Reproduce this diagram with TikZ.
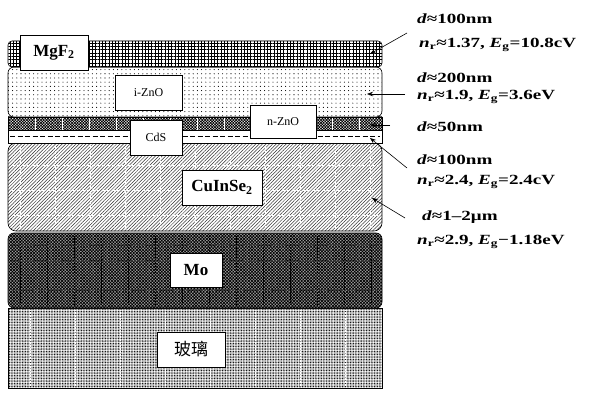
\documentclass[tikz,border=0pt]{standalone}
\usepackage{fontspec}
\usepackage{graphicx}
\setmainfont{Liberation Serif}
\newfontfamily\cjk{Noto Sans CJK SC}
\usetikzlibrary{patterns.meta,arrows.meta}
\newcommand{\widetext}[1]{\scalebox{1.36}[1]{#1}}
\tikzset{
  layer/.style={draw=black, line width=0.6pt},
  lbl/.style={draw=black, fill=white, line width=0.6pt, inner sep=0pt, font=\fontsize{17}{19}\selectfont\bfseries},
  smalllbl/.style={draw=black, fill=white, line width=0.6pt, inner sep=0pt, font=\fontsize{12}{14}\selectfont},
  cjklbl/.style={draw=black, fill=white, line width=0.6pt, inner sep=0pt, font=\fontsize{17}{19}\selectfont\cjk},
  note/.style={anchor=west, inner sep=0pt, font=\fontsize{14}{16}\selectfont\bfseries},
  pointer/.style={line width=0.6pt, -{Stealth[length=6pt,width=4.5pt]}}
}
\begin{document}
\begin{tikzpicture}[x=1pt,y=-1pt]
\useasboundingbox (0,0) rectangle (589,393);
% glass
\fill[white] (8,308) rectangle (382,388);
\fill[pattern={Dots[distance=1.6pt,radius=0.55pt]},pattern color=black] (8,308) rectangle (382,388);
\foreach \xx in {30,75,...,380} \draw[white,line width=0.5pt,densely dotted] (\xx,310) -- (\xx,386);
\draw[layer] (8,308) rectangle (382,388);
% Mo
\fill[gray!70,rounded corners=6pt] (8,233) rectangle (382,308);
\fill[pattern={Hatch[angle=45,distance=2.2pt,line width=0.7pt]},pattern color=black,rounded corners=6pt] (8,233) rectangle (382,308);
\foreach \xx in {20,47,...,380} \draw[black,line width=0.5pt,densely dotted] (\xx,236) -- (\xx,305);
\foreach \yy in {245,260,275,290} \draw[black!80,line width=0.4pt,densely dotted] (12,\yy) -- (378,\yy);
\draw[layer,rounded corners=6pt] (8,233) rectangle (382,308);
% CuInSe2
\fill[white,rounded corners=8pt] (8,143) rectangle (382,231);
\fill[pattern={Lines[angle=45,distance=2.4pt,line width=0.5pt]},pattern color=black!80,rounded corners=8pt] (8,143) rectangle (382,231);
\foreach \yy in {165,190,215} \draw[white,line width=0.5pt,densely dashed] (12,\yy) -- (378,\yy);
\foreach \xx in {20,55,...,380} \draw[white,line width=0.4pt,densely dashed] (\xx,146) -- (\xx,228);
\draw[layer,rounded corners=8pt] (8,143) rectangle (382,231);
% CdS
\fill[white] (8,130) rectangle (382,143);
\draw[line width=0.6pt,dash pattern=on 5pt off 2.5pt] (10,136.5) -- (380,136.5);
\draw[layer] (8,130) rectangle (382,143);
% n-ZnO
\fill[white] (8,117) rectangle (382,130);
\fill[pattern={Hatch[angle=45,distance=2pt,line width=0.7pt]},pattern color=black] (8,117) rectangle (382,130);
\foreach \xx in {35,62,...,380} \draw[white,line width=0.5pt] (\xx,117) -- (\xx,130);
\draw[layer] (8,117) rectangle (382,130);
% i-ZnO
\fill[white,rounded corners=6pt] (8,67) rectangle (382,117);
\fill[pattern={Dots[distance=4.2pt,radius=0.55pt]},pattern color=black,rounded corners=6pt] (8,67) rectangle (382,117);
\draw[layer,rounded corners=6pt] (8,67) rectangle (382,117);
% MgF2
\fill[white,rounded corners=4pt] (8,41) rectangle (382,67);
\fill[pattern={Hatch[angle=0,distance=3.3pt,line width=0.7pt]},pattern color=black,rounded corners=4pt] (8,41) rectangle (382,67);
\draw[layer,rounded corners=4pt] (8,41) rectangle (382,67);
% labels
\node[lbl, minimum width=68pt, minimum height=35pt] (mgf) at (54,52.5) {MgF\textsubscript{2}};
\node[smalllbl, minimum width=67pt, minimum height=35pt] (izno) at (148.5,92.5) {i-ZnO};
\node[smalllbl, minimum width=66pt, minimum height=33pt] (nzno) at (283,121.5) {n-ZnO};
\node[smalllbl, minimum width=52pt, minimum height=35pt] (cds) at (156,137.5) {CdS};
\node[lbl, minimum width=80pt, minimum height=35pt] (cis) at (222,187.5) {CuInSe\textsubscript{2}};
\node[lbl, minimum width=52pt, minimum height=34pt] (mo) at (196,270) {Mo};
\node[cjklbl, minimum width=68pt, minimum height=35pt] (glass) at (191,349.5) {玻璃};
% notes
\node[note] (t1) at (417,19) {\widetext{\textit{d}≈100nm}};
\node[note] (t2) at (419,45) {\widetext{\textit{n}\textsubscript{r}≈1.37, \textit{E}\textsubscript{g}=10.8cV}};
\node[note] (t3) at (417,78) {\widetext{\textit{d}≈200nm}};
\node[note] (t4) at (417,97) {\widetext{\textit{n}\textsubscript{r}≈1.9, \textit{E}\textsubscript{g}=3.6eV}};
\node[note] (t5) at (417,127) {\widetext{\textit{d}≈50nm}};
\node[note] (t6) at (417,160) {\widetext{\textit{d}≈100nm}};
\node[note] (t7) at (417,182) {\widetext{\textit{n}\textsubscript{r}≈2.4, \textit{E}\textsubscript{g}=2.4cV}};
\node[note] (t8) at (422,217) {\widetext{\textit{d}≈1–2μm}};
\node[note] (t9) at (417,242) {\widetext{\textit{n}\textsubscript{r}≈2.9, \textit{E}\textsubscript{g}−1.18eV}};
% pointers
\coordinate (s1) at (407,33); \coordinate (e1) at (370,54);
\coordinate (s2) at (405,94); \coordinate (e2) at (367,94);
\coordinate (s3) at (390,125); \coordinate (e3) at (370,125);
\coordinate (s4) at (407,168); \coordinate (e4) at (370,138);
\coordinate (s5) at (405,218); \coordinate (e5) at (372,198);
\draw[pointer] (s1) -- (e1);
\draw[pointer] (s2) -- (e2);
\draw[pointer] (s3) -- (e3);
\draw[pointer] (s4) -- (e4);
\draw[pointer] (s5) -- (e5);
\end{tikzpicture}
\end{document}
